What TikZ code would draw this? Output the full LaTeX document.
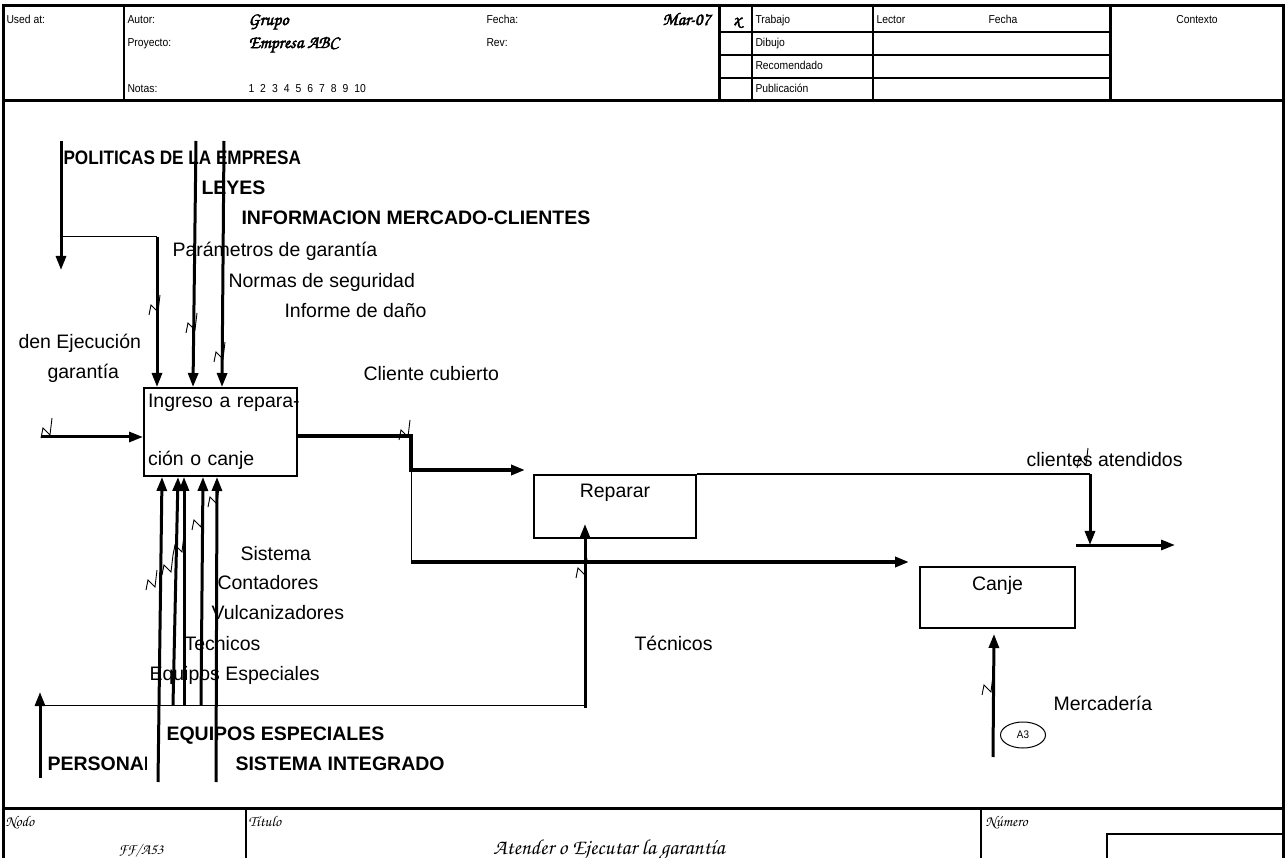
\documentclass[tikz,border=0pt]{standalone}
\usepackage{fontspec}
\setmainfont{Liberation Sans}
\newfontfamily\hdrfont{Liberation Sans}[FakeStretch=0.9]
\IfFontExistsTF{TeX Gyre Chorus}
  {\newfontfamily\handfont{TeX Gyre Chorus}
   \newfontfamily\handbold{TeX Gyre Chorus}[FakeBold=2.5]}
  {\newcommand\handfont{\itshape}
   \newcommand\handbold{\bfseries\itshape}}
\usetikzlibrary{arrows.meta,calc,shapes.geometric}

\begin{document}
\begin{tikzpicture}[
  x=1pt, y=-1pt,
  line width=1pt,
  frm/.style={line width=3pt},
  hdr/.style={font=\hdrfont\fontsize{11.5}{13}\selectfont, anchor=base west, inner sep=0pt},
  hnd/.style={font=\handbold\fontsize{18}{20}\selectfont, anchor=base west, inner sep=0pt},
  ftr/.style={font=\handfont\fontsize{15}{17}\selectfont, anchor=base west, inner sep=0pt},
  lbl/.style={font=\fontsize{19.5}{22}\selectfont, anchor=base west, inner sep=0pt},
  blbl/.style={lbl, font=\bfseries\fontsize{19.5}{22}\selectfont},
  act/.style={draw, line width=2pt, inner xsep=4pt, font=\fontsize{19.5}{22}\selectfont},
  flow/.style={-{Triangle[length=14pt,width=10pt]}, line width=3pt},
  trunk/.style={flow, line width=4pt},
  tie/.style={line width=1pt},
  squig/.pic={\draw[line width=0.9pt] (-6,10) -- (-4,0) -- (3,7) -- (5,-10);},
]
\useasboundingbox (0,0) rectangle (1286,858);

% ---------------- Form frame ----------------
\draw[frm] (3,6) rectangle (1283,880);
\draw[frm] (3,101) -- (1283,101);
\draw[frm] (3,808) -- (1283,808);
\foreach \x/\w in {124/2, 719/3, 752/2, 873/2, 1110/3}
  \draw[line width=\w pt] (\x,6) -- (\x,101);
\foreach \y in {32,55,78}
  \draw[line width=2pt] (719,\y) -- (1110,\y);
\foreach \x in {246,981}
  \draw[line width=2pt] (\x,808) -- (\x,858);
\draw[line width=2pt] (1107,858) -- (1107,834) -- (1283,834);

% header texts
\node[hdr] (usedat) at (6,24) {Used at:};
\node[hdr] (autor) at (127,24) {Autor:};
\node[hdr] (proy) at (127,47) {Proyecto:};
\node[hdr] (notas) at (127,93) {Notas:};
\node[hdr] (fecha) at (486,24) {Fecha:};
\node[hdr] (rev) at (486,47) {Rev:};
\node[hdr] (nums) at (248,93) {\spaceskip=6pt\relax 1 2 3 4 5 6 7 8 9 10};
\node[hnd] (grupo) at (248,25) {Grupo};
\node[hnd] (empresa) at (248,48) {Empresa ABC};
\node[hnd, anchor=base east] (mes) at (711,25) {Mar-07};
\node[hnd, anchor=base] (marca) at (737,25) {x};
\foreach \t/\y [count=\i] in {Trabajo/24, Dibujo/47, Recomendado/70, Publicación/93}
  \node[hdr] (fila\i) at (755,\y) {\t};
\node[hdr] (lector) at (876,24) {Lector};
\node[hdr] (fecharev) at (988,24) {Fecha};
\node[hdr, anchor=base] (contexto) at (1197,24) {Contexto};

% footer texts
\node[ftr] (nodo) at (5,826) {Nodo};
\node[ftr] (nodoid) at (118,854) {FF/A53};
\node[ftr] (titulo) at (248,826) {Título};
\node[ftr, anchor=base, font=\handfont\fontsize{21.5}{23}\selectfont] (tituloid) at (609,854)
  {Atender o Ejecutar la garantía};
\node[ftr] (numero) at (985,826) {Número};

% ---------------- Labels ----------------
\node[blbl] (politicas) at (63,165) {\scalebox{0.88}[1]{POLITICAS DE LA EMPRESA}};
\node[blbl] (leyes) at (201,195) {LEYES};
\node[blbl] (infomer) at (241,225) {INFORMACION MERCADO-CLIENTES};
\node[lbl] (param) at (172,257) {Parámetros de garantía};
\node[lbl] (normas) at (228,288) {Normas de seguridad};
\node[lbl] (informe) at (284,318) {Informe de daño};
\node[lbl] (orden) at (18,349) {den Ejecución};
\node[lbl] (ordenb) at (47,379) {garantía};
\node[lbl] (cubierto) at (363,381) {Cliente cubierto};
\node[lbl] (sistema) at (240,560) {Sistema};
\node[lbl] (contad) at (217,589) {Contadores};
\node[lbl] (vulcan) at (211,619) {Vulcanizadores};
\node[lbl] (techicos) at (184,650) {Techicos};
\node[lbl] (equipos) at (149,680) {Equipos Especiales};
\node[lbl] (tecnicos) at (634,650) {Técnicos};
\node[lbl] (atendidos) at (1026,467) {clientes atendidos};
\node[lbl] (mercad) at (1053,710) {Mercadería};
\node[blbl] (equiposb) at (166,740) {EQUIPOS ESPECIALES};
\begin{scope}
  \clip (40,745) rectangle (146,785);
  \node[blbl] (personal) at (47,770) {PERSONAL};
\end{scope}
\node[blbl] (sisint) at (235,770) {SISTEMA INTEGRADO};

% ---------------- Activities ----------------
\node[act, anchor=north west, minimum width=153, minimum height=88,
  align=left, text width=145] (ingreso) at (143,387) {\mbox{Ingreso a repara-}\\[36pt]ción o canje};
\node[act, anchor=north west, minimum width=162, inner ysep=9pt, text height=14pt, text depth=31pt]
  (reparar) at (533,474) {Reparar};
\node[act, anchor=north west, minimum width=155, inner ysep=9pt, text height=14pt, text depth=29pt]
  (canje) at (919,566) {Canje};
\node[draw, ellipse, minimum width=45, minimum height=26, inner sep=0pt,
  font=\hdrfont\fontsize{11}{13}\selectfont] (a3) at (1023,735) {A3};

% ---------------- Controls (top) ----------------
\coordinate (polS) at (61,141);
\coordinate (polE) at (61,270);
\coordinate (polJ) at (61,237);
\coordinate (ctl1) at ($(ingreso.north west)+(14,0)$);
\coordinate (polK) at (polJ -| ctl1);
\coordinate (leyS) at (196,141);
\coordinate (ctl2) at ($(ingreso.north west)+(50,0)$);
\coordinate (infS) at (224,141);
\coordinate (ctl3) at ($(ingreso.north west)+(79,0)$);
\draw[flow] (polS) -- (polE);
\draw[tie] (polJ) -- (polK);
\draw[flow] (polK) -- (ctl1);
\draw[flow] (leyS) -- (ctl2);
\draw[flow] (infS) -- (ctl3);

% ---------------- Input / outputs ----------------
\coordinate (entS) at (41,437);
\draw[flow] (entS) -- (entS -| ingreso.west);

\coordinate (outA) at (411,436);
\coordinate (outB) at (411,470);
\coordinate (outD) at (411,562);
\coordinate (repIn) at ($(reparar.north west)+(-8,-4)$);
\coordinate (canIn) at ($(canje.north west)+(-10,-4)$);
\draw[trunk] (outA -| ingreso.east) -- (outA) -- (outB) -- (repIn);
\draw[tie] (outB) -- (outD);
\draw[trunk] (outD) -- (canIn);

\coordinate (cliK) at (1090,474);
\coordinate (cliE) at (1090,545);
\coordinate (salS) at (1076,545);
\coordinate (salE) at (1175,545);
\draw[tie, line width=1.5pt] (reparar.north east) -- (cliK);
\draw[flow] (cliK) -- (cliE);
\draw[flow] (salS) -- (salE);

% ---------------- Mechanisms (bottom) ----------------
\foreach \n/\xs/\ys/\dx in {1/158/782/19, 2/173/705/35, 3/184/705/41, 4/201/705/60, 5/216/782/74} {
  \coordinate (mec\n) at (\xs,\ys);
  \coordinate (mtip\n) at ($(ingreso.south west)+(\dx,0)$);
  \draw[flow] (mec\n) -- (mtip\n);
}
\coordinate (perS) at (40,778);
\coordinate (perE) at (40,692);
\coordinate (perJ) at (40,705);
\coordinate (tecS) at (585,708);
\coordinate (tecE) at ($(reparar.south west)+(52,-15)$);
\draw[flow] (perS) -- (perE);
\draw[tie] (perJ) -- (perJ -| tecS);
\draw[flow] (tecS) -- (tecE);

\coordinate (merS) at (993,757);
\coordinate (merE) at ($(canje.south)+(-3.5,5)$);
\draw[flow] (merS) -- (merE);

% squiggles (label ties)
\foreach \px/\py in {155/305, 192/323, 220/352, 47/428, 405/430, 152/580, 168/565,
                     179/545, 198/520, 214/497, 582/568, 1083/458, 988/685}
  \pic at (\px,\py) {squig};

\end{tikzpicture}
\end{document}
